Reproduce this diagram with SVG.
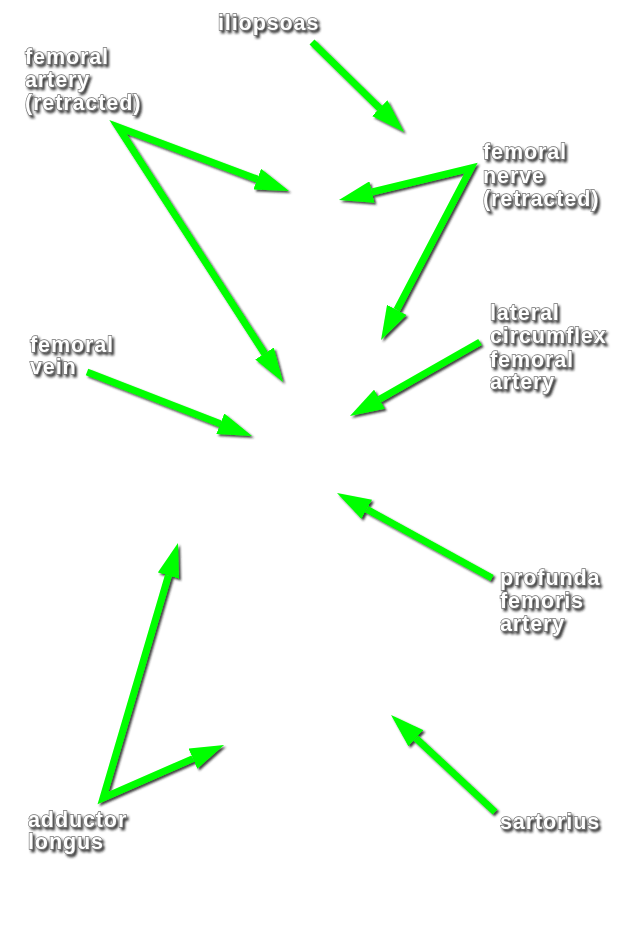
<svg xmlns="http://www.w3.org/2000/svg" width="631" height="950" viewBox="0 0 631 950">
<defs>
<style>
.lbl{font-family:"Liberation Sans",Arial,sans-serif;font-weight:bold;font-size:21.5px;letter-spacing:0.9px;fill:#fff;stroke:#707070;stroke-width:1.3;paint-order:stroke;filter:url(#ts)}
.arr{fill:none;stroke:#00ff00;stroke-width:7;stroke-linejoin:miter;stroke-miterlimit:20}
</style>
<filter id="ts" x="-10%" y="-20%" width="130%" height="160%">
<feDropShadow dx="2" dy="2.5" stdDeviation="1" flood-color="#222" flood-opacity="0.85"/>
</filter>
<filter id="as" x="-10%" y="-10%" width="130%" height="130%">
<feDropShadow dx="2" dy="2" stdDeviation="1" flood-color="#222" flood-opacity="0.85"/>
</filter>
<marker id="ah" markerUnits="userSpaceOnUse" markerWidth="34" markerHeight="22" refX="0" refY="11" orient="auto-start-reverse" viewBox="0 0 34 22">
<path d="M0,0 L34,11 L0,22 Z" fill="#00ff00"/>
</marker>
</defs>
<rect width="631" height="950" fill="#fff"/>
<g id="connectors" filter="url(#as)">
<path class="arr" d="M312,42 L379.7,108.2" marker-end="url(#ah)"/>
<path class="arr" d="M257.2,179.1 L118,127 L264.5,353.5" marker-start="url(#ah)" marker-end="url(#ah)"/>
<path class="arr" d="M372,192 L471,168 L396.8,309.9" marker-start="url(#ah)" marker-end="url(#ah)"/>
<path class="arr" d="M480,342 L379.5,399.2" marker-end="url(#ah)"/>
<path class="arr" d="M87,372 L220.3,423.7" marker-end="url(#ah)"/>
<path class="arr" d="M492,578 L366.8,509.3" marker-end="url(#ah)"/>
<path class="arr" d="M168.4,575.6 L103,798 L192.9,758.6" marker-start="url(#ah)" marker-end="url(#ah)"/>
<path class="arr" d="M495,812 L415.9,738.2" marker-end="url(#ah)"/>
</g>
<g id="iliopsoas"><text class="lbl" x="218" y="30">iliopsoas</text></g>
<g id="femoral-artery"><text class="lbl" x="25" y="64">femoral</text><text class="lbl" x="25" y="87">artery</text><text class="lbl" x="25" y="110">(retracted)</text></g>
<g id="femoral-nerve"><text class="lbl" x="483" y="159">femoral</text><text class="lbl" x="483" y="183">nerve</text><text class="lbl" x="483" y="206">(retracted)</text></g>
<g id="lateral-circumflex"><text class="lbl" x="490" y="320">lateral</text><text class="lbl" x="490" y="343">circumflex</text><text class="lbl" x="490" y="367">femoral</text><text class="lbl" x="490" y="389">artery</text></g>
<g id="femoral-vein"><text class="lbl" x="30" y="352">femoral</text><text class="lbl" x="30" y="374">vein</text></g>
<g id="profunda"><text class="lbl" x="500" y="585">profunda</text><text class="lbl" x="500" y="608">femoris</text><text class="lbl" x="500" y="631">artery</text></g>
<g id="adductor-longus"><text class="lbl" x="28" y="827">adductor</text><text class="lbl" x="28" y="849">longus</text></g>
<g id="sartorius"><text class="lbl" x="500" y="829">sartorius</text></g>
</svg>
